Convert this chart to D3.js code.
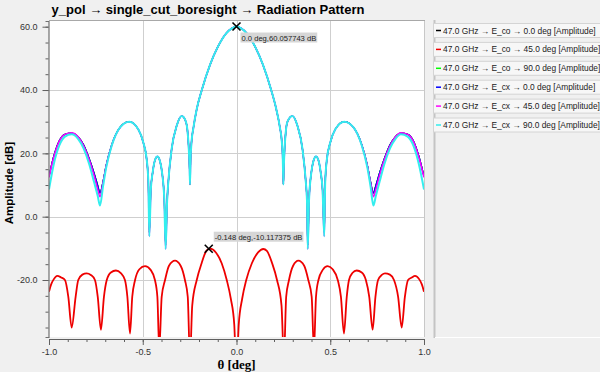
<!DOCTYPE html>
<html>
<head>
<meta charset="utf-8">
<script src="https://cdn.jsdelivr.net/npm/d3@7"></script>
<style>
  body { margin: 0; background: #f0f0f0; }
  svg { display: block; }
  .tick text { font-family: "Liberation Sans", Arial, sans-serif; font-size: 9px; fill: #333; }
</style>
</head>
<body>
<svg id="chart" width="600" height="372"></svg>
<script>
// angle grid shared by the high level curves (deg)
var thetaHi = [
  -1.000, -0.975, -0.945, -0.915, -0.879, -0.845, -0.815, -0.785, -0.760, -0.740,
  -0.728, -0.712, -0.695, -0.666, -0.621, -0.572, -0.524, -0.497, -0.479, -0.470,
  -0.465, -0.457, -0.447, -0.435, -0.422, -0.408, -0.397, -0.385, -0.378, -0.370,
  -0.364, -0.346, -0.319, -0.292, -0.270, -0.262, -0.255, -0.250, -0.248, -0.245,
  -0.240, -0.230, -0.212, -0.185, -0.141, -0.099, -0.055, -0.025, 0.000,
  0.025, 0.055, 0.099, 0.141, 0.185, 0.212, 0.232, 0.242, 0.247, 0.250, 0.252,
  0.257, 0.264, 0.272, 0.298, 0.325, 0.352, 0.370, 0.376, 0.380, 0.387,
  0.399, 0.410, 0.424, 0.437, 0.449, 0.459, 0.468, 0.473, 0.482, 0.500,
  0.527, 0.575, 0.624, 0.669, 0.698, 0.715, 0.730, 0.743, 0.763, 0.788,
  0.818, 0.848, 0.877, 0.913, 0.943, 0.973, 1.000
];

// E_cx 90 deg (cyan)
var ampCx90 = [
  8.6, 16.5, 22.5, 25.3, 26.0, 24.6, 21.5, 16.5, 11.0, 6.5,
  3.5, 9.5, 15.5, 22.3, 28.2, 30.0, 27.6, 23.4, 18.1, 10.7,
  -6.2, 8.5, 14.0, 17.8, 19.0, 17.5, 13.9, 5.4, -10.2, 5.0,
  10.7, 21.3, 28.7, 31.8, 30.0, 27.5, 22.0, 15.0, 10.2, 18.0,
  23.5, 28.0, 34.0, 40.0, 48.0, 53.7, 57.9, 59.5, 60.06,
  59.5, 57.9, 53.7, 48.0, 40.0, 34.0, 28.0, 23.5, 18.0, 10.2, 15.0,
  22.0, 27.5, 30.0, 31.8, 28.7, 21.3, 10.7, 5.0, -10.2, 5.4,
  13.9, 17.5, 19.0, 17.8, 14.0, 8.5, -6.2, 10.7, 18.1, 23.4,
  27.6, 30.0, 28.2, 22.3, 15.5, 9.5, 3.5, 6.5, 11.0, 16.5,
  21.5, 24.6, 26.0, 25.3, 22.5, 16.5, 8.6
];

// E_cx 45 deg (magenta)
var ampCx45 = [
  12.4, 18.6, 23.8, 26.0, 26.5, 25.2, 22.3, 17.8, 13.0, 8.5,
  6.3, 10.6, 16.0, 22.5, 28.2, 30.0, 27.6, 23.4, 18.1, 10.7,
  -6.2, 8.5, 14.0, 17.8, 19.0, 17.5, 13.9, 5.4, -10.2, 5.0,
  10.7, 21.3, 28.7, 31.8, 30.0, 27.5, 22.0, 15.0, 10.2, 18.0,
  23.5, 28.0, 34.0, 40.0, 48.0, 53.7, 57.9, 59.5, 60.06,
  59.5, 57.9, 53.7, 48.0, 40.0, 34.0, 28.0, 23.5, 18.0, 10.2, 15.0,
  22.0, 27.5, 30.0, 31.8, 28.7, 21.3, 10.7, 5.0, -10.2, 5.4,
  13.9, 17.5, 19.0, 17.8, 14.0, 8.5, -6.2, 10.7, 18.1, 23.4,
  27.6, 30.0, 28.2, 22.5, 16.0, 10.6, 6.3, 8.5, 13.0, 17.8,
  22.3, 25.2, 26.5, 26.0, 23.8, 18.6, 12.4
];

// E_co 0 deg, E_co 90 deg, E_cx 0 deg (black, green, blue) - drawn underneath
var ampCo0 = [
  12.7, 19.0, 24.0, 26.0, 26.4, 25.3, 22.6, 18.2, 13.8, 9.8,
  7.5, 11.0, 16.2, 22.6, 28.2, 30.0, 27.6, 23.4, 18.1, 10.7,
  -5.0, 8.5, 14.0, 17.8, 19.0, 17.5, 13.9, 5.4, -9.0, 5.0,
  10.7, 21.3, 28.7, 31.8, 30.0, 27.5, 22.0, 15.0, 10.2, 18.0,
  23.5, 28.0, 34.0, 40.0, 48.0, 53.7, 57.9, 59.5, 60.06,
  59.5, 57.9, 53.7, 48.0, 40.0, 34.0, 28.0, 23.5, 18.0, 10.2, 15.0,
  22.0, 27.5, 30.0, 31.8, 28.7, 21.3, 10.7, 5.0, -9.0, 5.4,
  13.9, 17.5, 19.0, 17.8, 14.0, 8.5, -5.0, 10.7, 18.1, 23.4,
  27.6, 30.0, 28.2, 22.6, 16.2, 11.0, 7.5, 9.8, 13.8, 18.2,
  22.6, 25.3, 26.4, 26.0, 24.0, 19.0, 12.7
];

// E_co 45 deg (red) has its own angle grid
var thetaCo45 = [
  -1.000, -0.988, -0.975, -0.956, -0.935, -0.915, -0.897, -0.879, -0.858, -0.844,
  -0.822, -0.799, -0.777, -0.755, -0.740, -0.723, -0.707, -0.692, -0.670, -0.643,
  -0.617, -0.595, -0.582, -0.568, -0.556, -0.541, -0.518, -0.488, -0.458, -0.435,
  -0.422, -0.412, -0.399, -0.381, -0.360, -0.328, -0.298, -0.275, -0.260, -0.248,
  -0.236, -0.212, -0.186, -0.160, -0.141, -0.110, -0.079, -0.052, -0.030, -0.012,
  0.000,
  0.012, 0.030, 0.052, 0.082, 0.115, 0.143, 0.162, 0.190, 0.216, 0.240,
  0.253, 0.265, 0.280, 0.302, 0.330, 0.361, 0.383, 0.401, 0.413, 0.424,
  0.437, 0.460, 0.486, 0.513, 0.540, 0.557, 0.573, 0.588, 0.600, 0.618,
  0.641, 0.668, 0.690, 0.708, 0.726, 0.741, 0.755, 0.775, 0.792, 0.818,
  0.840, 0.862, 0.881, 0.898, 0.915, 0.935, 0.952, 0.975, 0.988, 1.000
];
var ampCo45 = [
  -23.7, -21.3, -19.8, -18.7, -19.2, -20.0, -25.3, -35.0, -25.3, -20.0,
  -18.3, -17.9, -18.4, -20.0, -25.3, -35.7, -25.3, -20.0, -17.6, -17.0,
  -17.8, -20.0, -25.3, -36.9, -25.3, -20.0, -16.6, -15.6, -16.8, -20.0,
  -25.3, -42.0, -25.3, -20.0, -15.5, -13.9, -15.5, -20.0, -25.3, -45.0,
  -28.0, -20.0, -14.7, -10.7, -10.1, -11.3, -14.7, -20.0, -26.0, -34.0,
  -50.0,
  -34.0, -26.0, -20.0, -14.7, -11.3, -10.2, -10.8, -14.7, -20.0, -28.0,
  -45.0, -25.3, -20.0, -15.5, -13.9, -15.5, -20.0, -25.3, -42.0, -25.3,
  -20.0, -16.8, -15.6, -16.6, -20.0, -25.3, -36.9, -25.3, -20.0, -17.8,
  -17.0, -17.6, -20.0, -25.3, -35.7, -25.3, -20.0, -18.4, -17.9, -18.3,
  -20.0, -25.3, -35.0, -25.3, -20.0, -19.2, -18.7, -19.8, -21.3, -23.7
];

var seriesNames = [
  "47.0 GHz \u2192 E_co \u2192 0.0 deg [Amplitude]",
  "47.0 GHz \u2192 E_co \u2192 45.0 deg [Amplitude]",
  "47.0 GHz \u2192 E_co \u2192 90.0 deg [Amplitude]",
  "47.0 GHz \u2192 E_cx \u2192 0.0 deg [Amplitude]",
  "47.0 GHz \u2192 E_cx \u2192 45.0 deg [Amplitude]",
  "47.0 GHz \u2192 E_cx \u2192 90.0 deg [Amplitude]"
];
var seriesColors = ["#000000", "#ee0000", "#00ff00", "#0000ff", "#ff00ff", "#33eeee"];
var seriesWidths = [1.2, 1.8, 1.2, 1.3, 1.6, 2.0];

var xTicks = [-1.0, -0.5, 0.0, 0.5, 1.0];
var yTicks = [-20, 0, 20, 40, 60];

// markers: theta, value, label
var markers = [
  {theta: 0.0, value: 60.057743, label: "0.0 deg,60.057743 dB", dx: 5, dy: 7},
  {theta: -0.148, value: -10.117375, label: "-0.148 deg,-10.117375 dB", dx: 6, dy: -16}
];

var series = [
  {theta: thetaHi, amp: ampCo0},
  {theta: thetaCo45, amp: ampCo45},
  {theta: thetaHi, amp: ampCo0},
  {theta: thetaHi, amp: ampCo0},
  {theta: thetaHi, amp: ampCx45},
  {theta: thetaHi, amp: ampCx90}
];

var svg = d3.select("#chart");
var plotL = 49, plotR = 424, plotT = 21, plotB = 337;

var x = d3.scaleLinear().domain([-1, 1]).range([plotL, plotR]);
var y = d3.scaleLinear().domain([-38, 61.8]).range([plotB, plotT]);

// plot background
svg.append("rect")
    .attr("x", plotL).attr("y", plotT)
    .attr("width", plotR - plotL).attr("height", plotB - plotT)
    .attr("fill", "#ffffff");

// grid
var grid = svg.append("g").attr("stroke", "#cfcfcf").attr("stroke-width", 1);
grid.selectAll("line.gx")
    .data(xTicks.slice(1, -1))
    .enter().append("line")
    .attr("x1", function (d) { return Math.round(x(d)) + 0.5; })
    .attr("x2", function (d) { return Math.round(x(d)) + 0.5; })
    .attr("y1", plotT).attr("y2", plotB);
grid.selectAll("line.gy")
    .data(yTicks.slice(0, -1))
    .enter().append("line")
    .attr("y1", function (d) { return Math.round(y(d)) + 0.5; })
    .attr("y2", function (d) { return Math.round(y(d)) + 0.5; })
    .attr("x1", plotL).attr("x2", plotR);

// frame top / right
svg.append("line").attr("x1", plotL).attr("x2", plotR + 1)
    .attr("y1", plotT - 0.5).attr("y2", plotT - 0.5).attr("stroke", "#a8a8a8");
svg.append("line").attr("x1", plotR + 0.5).attr("x2", plotR + 0.5)
    .attr("y1", plotT).attr("y2", plotB).attr("stroke", "#c8c8c8");

// curves
svg.append("clipPath").attr("id", "clip")
    .append("rect")
    .attr("x", plotL).attr("y", plotT)
    .attr("width", plotR - plotL).attr("height", plotB - plotT);

var line = d3.line()
    .x(function (d) { return x(d[0]); })
    .y(function (d) { return y(d[1]); })
    .curve(d3.curveMonotoneX);

svg.append("g").attr("clip-path", "url(#clip)")
    .selectAll("path")
    .data(series)
    .enter().append("path")
    .attr("d", function (s) {
        return line(s.theta.map(function (t, i) { return [t, s.amp[i]]; }));
    })
    .attr("fill", "none")
    .attr("stroke", function (s, i) { return seriesColors[i]; })
    .attr("stroke-width", function (s, i) { return seriesWidths[i]; })
    .attr("stroke-linejoin", "round");

// axes
var xAxis = svg.append("g")
    .attr("transform", "translate(0," + (plotB + 2) + ")")
    .call(d3.axisBottom(x).tickValues(d3.range(-10, 11).map(function (d) { return d / 10; }))
        .tickSize(4).tickFormat(""));
xAxis.select(".domain").attr("stroke", "#606060");
xAxis.selectAll(".tick line").attr("stroke", "#606060").attr("y2", 3);
var xAxisMajor = svg.append("g")
    .attr("transform", "translate(0," + (plotB + 2) + ")")
    .call(d3.axisBottom(x).tickValues(xTicks).tickSize(6).tickPadding(4)
        .tickFormat(d3.format(".1f")));
xAxisMajor.select(".domain").remove();
xAxisMajor.selectAll(".tick line").attr("stroke", "#606060");
xAxisMajor.selectAll(".tick text").attr("dy", "0.71em").text(function (d) {
    return d3.format(".1f")(d).replace("\u2212", "-");
});

var yAxis = svg.append("g")
    .attr("transform", "translate(" + (plotL - 0.5) + ",0)")
    .call(d3.axisLeft(y).tickValues(d3.range(-35, 61, 5)).tickSize(3).tickFormat(""));
yAxis.select(".domain").attr("stroke", "#707070").attr("stroke-width", 1.2);
yAxis.selectAll(".tick line").attr("stroke", "#606060");
var yAxisMajor = svg.append("g")
    .attr("transform", "translate(" + (plotL - 0.5) + ",0)")
    .call(d3.axisLeft(y).tickValues(yTicks).tickSize(6).tickPadding(5));
yAxisMajor.select(".domain").remove();
yAxisMajor.selectAll(".tick line").attr("stroke", "#606060");
yAxisMajor.selectAll(".tick text").text(function (d) {
    return d3.format(".1f")(d).replace("\u2212", "-");
});

// titles
svg.append("text")
    .attr("x", 208).attr("y", 14)
    .attr("text-anchor", "middle")
    .style("font-family", "'Liberation Sans', Arial, sans-serif")
    .style("font-size", "13px").style("font-weight", "bold")
    .text("y_pol \u2192 single_cut_boresight \u2192 Radiation Pattern");

svg.append("text")
    .attr("x", x(0)).attr("y", 369)
    .attr("text-anchor", "middle")
    .style("font-family", "'Liberation Serif', 'Times New Roman', serif")
    .style("font-size", "13px").style("font-weight", "bold")
    .text("\u03b8 [deg]");

svg.append("text")
    .attr("transform", "translate(12.5," + ((plotT + plotB) / 2 + 4) + ") rotate(-90)")
    .attr("text-anchor", "middle")
    .style("font-family", "'Liberation Sans', Arial, sans-serif")
    .style("font-size", "11.5px").style("font-weight", "bold")
    .text("Amplitude [dB]");

// markers and their labels
var mk = svg.selectAll("g.marker")
    .data(markers)
    .enter().append("g")
    .attr("transform", function (d) { return "translate(" + x(d.theta) + "," + y(d.value) + ")"; });
mk.append("path")
    .attr("d", "M-4,-4L4,4M-4,4L4,-4")
    .attr("stroke", "#000").attr("stroke-width", 1.6);
mk.each(function (d) {
    var g = d3.select(this);
    var t = g.append("text")
        .attr("x", d.dx).attr("y", d.dy + 7)
        .style("font-family", "'Liberation Sans', Arial, sans-serif")
        .style("font-size", "7.6px").style("fill", "#222")
        .text(d.label);
    var w = t.node().getComputedTextLength();
    g.insert("rect", "text")
        .attr("x", d.dx - 1).attr("y", d.dy - 1)
        .attr("width", w + 2).attr("height", 10)
        .attr("fill", "#d6d6d6");
});

// legend panel
var lx = 434;
svg.append("line").attr("x1", lx + 0.5).attr("x2", lx + 0.5)
    .attr("y1", plotT - 1).attr("y2", plotB + 1)
    .attr("stroke", "#c4c4c4").attr("stroke-width", 2);
svg.append("line").attr("x1", lx + 1).attr("x2", 600)
    .attr("y1", plotB + 0.5).attr("y2", plotB + 0.5)
    .attr("stroke", "#ffffff");

var item = svg.selectAll("g.legend")
    .data(seriesNames)
    .enter().append("g")
    .attr("transform", function (d, i) { return "translate(" + (lx - 1) + "," + (23 + i * 18.9) + ")"; });
item.append("rect")
    .attr("x", 0.5).attr("y", 0.5)
    .attr("width", 170).attr("height", 14)
    .attr("fill", "#f7f7f7").attr("stroke", "#d4d4d4");
item.append("line")
    .attr("x1", 3).attr("x2", 8)
    .attr("y1", 7.5).attr("y2", 7.5)
    .attr("stroke", function (d, i) { return seriesColors[i]; })
    .attr("stroke-width", 1.5);
item.append("text")
    .attr("x", 10).attr("y", 10.5)
    .style("font-family", "'Liberation Sans', Arial, sans-serif")
    .style("font-size", "8.4px").style("fill", "#222")
    .text(function (d) { return d; });
</script>
</body>
</html>
